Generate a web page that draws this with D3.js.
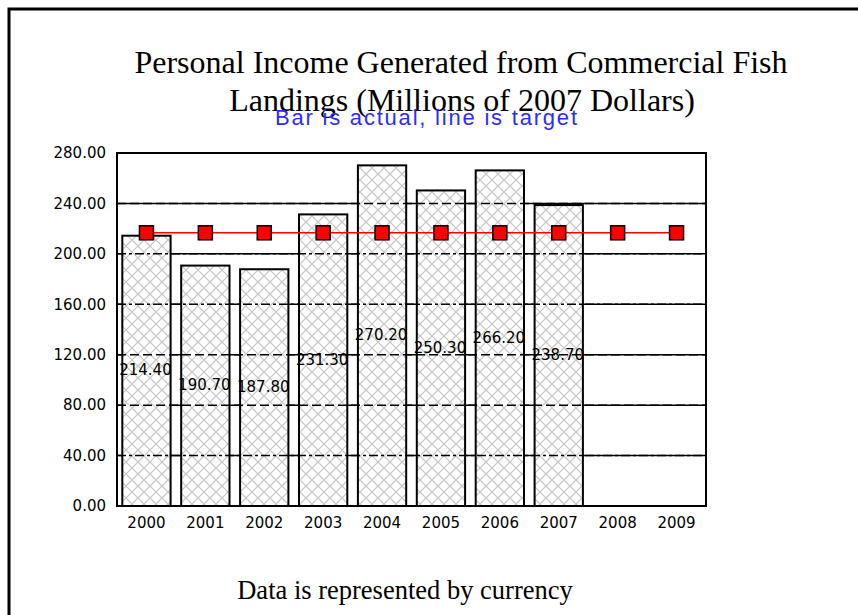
<!DOCTYPE html>
<html>
<head>
<meta charset="utf-8">
<script src="https://cdn.jsdelivr.net/npm/d3@7"></script>
<style>
  body { margin: 0; background: #fff; }
  svg { display: block; }
</style>
</head>
<body>
<svg id="chart"></svg>
<script>
// data
const years = ['2000', '2001', '2002', '2003', '2004', '2005', '2006', '2007', '2008', '2009']
const actual = [214.4, 190.7, 187.8, 231.3, 270.2, 250.3, 266.2, 238.7, null, null]
const target = [216.7, 216.7, 216.7, 216.7, 216.7, 216.7, 216.7, 216.7, 216.7, 216.7]
const yTicks = [0, 40, 80, 120, 160, 200, 240, 280]

const width = 858, height = 615
const plot = {left: 117, right: 706, top: 153, bottom: 506}
const smallFont = '"DejaVu Sans", Verdana, sans-serif'
const serif = '"Liberation Serif", "Times New Roman", serif'

const svg = d3.select('#chart')
  .attr('width', width)
  .attr('height', height)

// hatch fill for the bars
const hs = 12
const defs = svg.append('defs')
const pat = defs.append('pattern')
  .attr('id', 'hatch')
  .attr('patternUnits', 'userSpaceOnUse')
  .attr('width', hs)
  .attr('height', hs)
pat.append('rect').attr('width', hs).attr('height', hs).attr('fill', '#fff')
pat.append('path')
  .attr('d', `M0,0L${hs},${hs}M${hs},0L0,${hs}`)
  .attr('stroke', '#c4c4c4')
  .attr('stroke-width', 1.2)

// outer frame
svg.append('path')
  .attr('d', `M9,${height + 5}V9H${width + 5}`)
  .attr('fill', 'none')
  .attr('stroke', '#000')
  .attr('stroke-width', 3)

const x = d3.scaleBand()
  .domain(years)
  .range([plot.left, plot.right])
  .paddingInner(0.18)
  .paddingOuter(0.09)

const y = d3.scaleLinear()
  .domain([0, 280])
  .range([plot.bottom, plot.top])

// titles
const title = svg.append('text')
  .attr('text-anchor', 'middle')
  .attr('font-family', serif)
  .attr('font-size', 32)
  .attr('fill', '#000')
title.append('tspan').attr('x', 461).attr('y', 73).text('Personal Income Generated from Commercial Fish')
title.append('tspan').attr('x', 462).attr('y', 111).text('Landings (Millions of 2007 Dollars)')

svg.append('text')
  .attr('x', 426)
  .attr('y', 125)
  .attr('text-anchor', 'middle')
  .attr('font-family', '"Liberation Sans", Arial, sans-serif')
  .attr('font-size', 22)
  .attr('textLength', 302)
  .attr('lengthAdjust', 'spacing')
  .attr('fill', '#2b2bff')
  .text('Bar is actual, line is target')

svg.append('text')
  .attr('x', 405)
  .attr('y', 599)
  .attr('text-anchor', 'middle')
  .attr('font-family', serif)
  .attr('font-size', 26.5)
  .attr('fill', '#000')
  .text('Data is represented by currency')

// solid grid lines behind bars
svg.append('g')
  .selectAll('line')
  .data(yTicks)
  .join('line')
  .attr('x1', plot.left).attr('x2', plot.right)
  .attr('y1', d => y(d)).attr('y2', d => y(d))
  .attr('stroke', '#000')
  .attr('stroke-width', 1.5)

const barData = years.map((yr, i) => ({year: yr, value: actual[i]})).filter(d => d.value != null)

// bar fills
svg.append('g')
  .selectAll('rect')
  .data(barData)
  .join('rect')
  .attr('x', d => x(d.year))
  .attr('y', d => y(d.value))
  .attr('width', x.bandwidth())
  .attr('height', d => y(0) - y(d.value))
  .attr('fill', 'url(#hatch)')

// grid lines show dashed across the bars
svg.append('g')
  .selectAll('line')
  .data(yTicks.filter(d => d > 0 && d < 280))
  .join('line')
  .attr('x1', plot.left).attr('x2', plot.right)
  .attr('y1', d => y(d)).attr('y2', d => y(d))
  .attr('stroke', '#000')
  .attr('stroke-width', 1.5)
  .attr('stroke-dasharray', d => (d == 40 || d == 200 || d == 160) ? '9,3,3,3' : '9,4')

// value labels in the middle of each bar
svg.append('g')
  .attr('font-family', smallFont)
  .attr('font-size', 15)
  .attr('text-anchor', 'middle')
  .selectAll('text')
  .data(barData)
  .join('text')
  .attr('x', d => x(d.year) + x.bandwidth() / 2 - 1)
  .attr('y', d => (y(d.value) + y(0)) / 2)
  .attr('dy', '0.3em')
  .text(d => d.value.toFixed(2))

// bar outlines
svg.append('g')
  .selectAll('rect')
  .data(barData)
  .join('rect')
  .attr('x', d => x(d.year))
  .attr('y', d => y(d.value))
  .attr('width', x.bandwidth())
  .attr('height', d => y(0) - y(d.value))
  .attr('fill', 'none')
  .attr('stroke', '#000')
  .attr('stroke-width', 2)

// plot frame
svg.append('rect')
  .attr('x', plot.left).attr('y', plot.top)
  .attr('width', plot.right - plot.left)
  .attr('height', plot.bottom - plot.top)
  .attr('fill', 'none')
  .attr('stroke', '#000')
  .attr('stroke-width', 2)

// axes labels
const yAxis = d3.axisLeft(y)
  .tickValues(yTicks)
  .tickSize(0)
  .tickPadding(11)
  .tickFormat(d3.format('.2f'))
const gy = svg.append('g')
  .attr('transform', `translate(${plot.left},0)`)
  .call(yAxis)
gy.select('.domain').remove()
gy.selectAll('text')
  .attr('font-family', smallFont)
  .attr('font-size', 15)
  .attr('fill', '#000')

const xAxis = d3.axisBottom(x).tickSize(0).tickPadding(11)
const gx = svg.append('g')
  .attr('transform', `translate(0,${plot.bottom})`)
  .call(xAxis)
gx.select('.domain').remove()
gx.selectAll('text')
  .attr('font-family', smallFont)
  .attr('font-size', 15)
  .attr('fill', '#000')

// target line with square markers
const line = d3.line()
  .x((d, i) => x(years[i]) + x.bandwidth() / 2)
  .y(d => y(d))
svg.append('path')
  .datum(target)
  .attr('d', line)
  .attr('fill', 'none')
  .attr('stroke', '#ff0000')
  .attr('stroke-width', 1.5)

svg.append('g')
  .selectAll('rect')
  .data(target)
  .join('rect')
  .attr('x', (d, i) => x(years[i]) + x.bandwidth() / 2 - 7)
  .attr('y', d => y(d) - 7)
  .attr('width', 14)
  .attr('height', 14)
  .attr('fill', '#ff0000')
  .attr('stroke', '#000')
  .attr('stroke-width', 1.5)
</script>
</body>
</html>
